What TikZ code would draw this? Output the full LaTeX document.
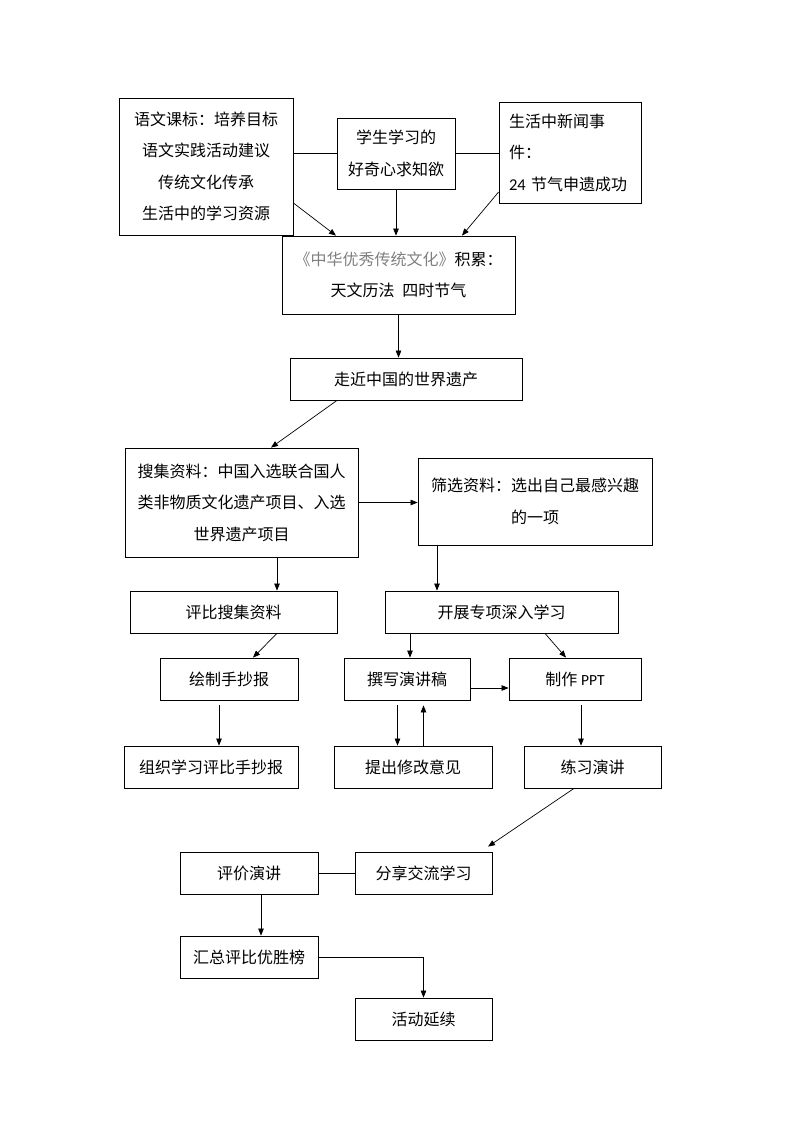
\documentclass[tikz,border=0pt]{standalone}
\usepackage{fontspec}
\setmainfont{Noto Sans CJK SC}
\newfontfamily\latinf{Carlito}
\usetikzlibrary{arrows.meta,calc}
\begin{document}
\begin{tikzpicture}[x=1pt,y=-1pt]
\tikzset{
 box/.style={draw, line width=0.8pt, inner sep=0pt, align=center, font=\fontsize{16pt}{31.5pt}\selectfont},
 arr/.style={-{Triangle[length=7pt,width=5.5pt]}, line width=0.7pt},
 ln/.style={line width=0.7pt}
}
\useasboundingbox[fill=white] (0,0) rectangle (794,1123);
% nodes
\node[box, minimum width=174pt, minimum height=137pt] (A) at (206,166.5) {语文课标：培养目标\\语文实践活动建议\\传统文化传承\\生活中的学习资源};
\node[box, minimum width=118pt, minimum height=71pt] (B) at (396,153.5) {学生学习的\\好奇心求知欲};
\node[box, minimum width=142pt, minimum height=101pt, text width=122pt, inner xsep=10pt, align=left] (C) at (570,152.5) {生活中新闻事\\件：\\{\latinf\fontsize{16.5pt}{16.5pt}\selectfont 24} 节气申遗成功};
\node[box, minimum width=233pt, minimum height=78pt] (D) at (398.5,275) {{\color{black!50}《中华优秀传统文化》}积累：\\天文历法\enspace 四时节气};
\node[box, minimum width=232pt, minimum height=42pt] (E) at (406,379) {走近中国的世界遗产};
\node[box, minimum width=233pt, minimum height=109pt] (F) at (241.5,502.5) {搜集资料：中国入选联合国人\\类非物质文化遗产项目、入选\\世界遗产项目};
\node[box, minimum width=234pt, minimum height=87pt] (G) at (535,501.5) {筛选资料：选出自己最感兴趣\\的一项};
\node[box, minimum width=207pt, minimum height=42pt] (H) at (233.5,612) {评比搜集资料};
\node[box, minimum width=233pt, minimum height=42pt] (I) at (501.5,612) {开展专项深入学习};
\node[box, minimum width=138pt, minimum height=42pt] (J) at (229,679) {绘制手抄报};
\node[box, minimum width=126pt, minimum height=42pt] (L) at (407,679) {撰写演讲稿};
\node[box, minimum width=132pt, minimum height=42pt] (M) at (575,679) {制作 {\latinf\fontsize{15.5pt}{15.5pt}\selectfont PPT}};
\node[box, minimum width=174pt, minimum height=42pt] (K) at (211,767) {组织学习评比手抄报};
\node[box, minimum width=158pt, minimum height=42pt] (N) at (413,767) {提出修改意见};
\node[box, minimum width=137pt, minimum height=42pt] (O) at (592.5,767) {练习演讲};
\node[box, minimum width=138pt, minimum height=42pt] (Q) at (249,873) {评价演讲};
\node[box, minimum width=137pt, minimum height=42pt] (P) at (423.5,873) {分享交流学习};
\node[box, minimum width=138pt, minimum height=42pt] (R) at (249,957) {汇总评比优胜榜};
\node[box, minimum width=137pt, minimum height=42pt] (S) at (423.5,1019) {活动延续};
% connectors
\draw[ln] (A.east |- B.west) -- (B.west);
\draw[ln] (B.east) -- (B.east -| C.west);
\draw[arr] ($(A.east)+(0,36.5)$) -- ($(D.north)+(-62.5,0)$);
\draw[arr] (B.south) -- (B.south |- D.north);
\draw[arr] ($(C.west)+(0,39.5)$) -- ($(D.north)+(63.5,0)$);
\draw[arr] (D.south) -- (D.south |- E.north);
\draw[arr] ($(E.south)+(-69,0)$) -- ($(F.north)+(29.5,0)$);
\draw[arr] (F.east) -- (F.east -| G.west);
\coordinate (f1) at ($(F.south)+(35.5,0)$);
\draw[arr] (f1) -- (f1 |- H.north);
\coordinate (g1) at ($(G.south)+(-98,0)$);
\draw[arr] (g1) -- (g1 |- I.north);
\draw[arr] ($(H.south)+(43.5,0)$) -- ($(J.north)+(24,0)$);
\coordinate (j1) at ($(J.south)+(-10,5)$);
\draw[arr] (j1) -- (j1 |- K.north);
\coordinate (i1) at ($(I.south)+(-91.5,0)$);
\draw[arr] (i1) -- (i1 |- L.north);
\draw[arr] ($(I.south)+(43.5,0)$) -- ($(M.north)+(-9,0)$);
\coordinate (l1) at ($(L.east)+(0,9)$);
\draw[arr] (l1) -- (l1 -| M.west);
\coordinate (l2) at ($(L.south)+(-9.5,5)$);
\draw[arr] (l2) -- (l2 |- N.north);
\coordinate (n1) at ($(N.north)+(10.5,0)$);
\draw[arr] (n1) -- (n1 |- l2);
\coordinate (m1) at ($(M.south)+(6,5)$);
\draw[arr] (m1) -- (m1 |- O.north);
\draw[arr] ($(O.south)+(-18.5,0)$) -- ($(P.north)+(64.5,-5)$);
\draw[ln] (Q.east) -- (P.west);
\coordinate (q1) at ($(Q.south)+(12,0)$);
\draw[arr] (q1) -- (q1 |- R.north);
\draw[arr] (R.east) -| (S.north);
\end{tikzpicture}
\end{document}
